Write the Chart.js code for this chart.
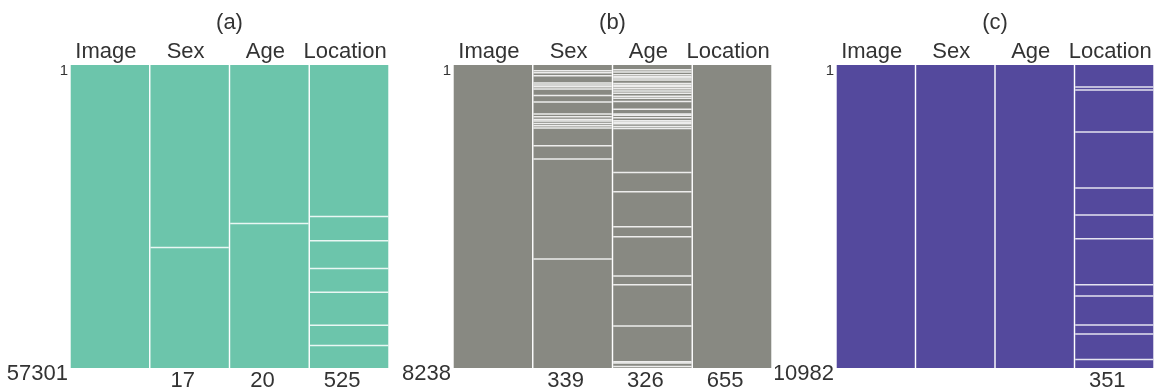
<!DOCTYPE html>
<html>
<head>
<meta charset="utf-8">
<script src="https://cdn.jsdelivr.net/npm/chart.js@4"></script>
<style>
  body { margin: 0; width: 1165px; height: 392px; background: #fff; position: relative; overflow: hidden; }
  .panel { position: absolute; top: 0; height: 392px; }
</style>
</head>
<body>
<div class="panel" style="left:0;width:395px"><canvas id="chartA"></canvas></div>
<div class="panel" style="left:395px;width:380px"><canvas id="chartB"></canvas></div>
<div class="panel" style="left:775px;width:390px"><canvas id="chartC"></canvas></div>
<script>
const columns = ['Image', 'Sex', 'Age', 'Location']

// (a)
const rowsA = 57301
const countsA = ['', '17', '20', '525']
const sexMissingA = [[34350, 34366]]
const ageMissingA = [[29815, 29834]]
const locMissingA = [[28500, 28590], [33100, 33190], [38340, 38430], [42820, 42910], [49060, 49150], [52900, 52990]]

// (b)
const rowsB = 8238
const countsB = ['', '339', '326', '655']
const sexMissingB = [[137, 150], [191, 215], [273, 290], [471, 490], [526, 545], [572, 590], [634, 650], [808, 820],
  [988, 1000], [1315, 1345], [1387, 1400], [1460, 1480], [1505, 1520], [1569, 1580], [1632, 1645], [1694, 1705],
  [2175, 2190], [2537, 2550], [5255, 5265]]
const ageMissingB = [[110, 125], [172, 185], [246, 260], [300, 312], [335, 345], [390, 400], [482, 495], [530, 560],
  [572, 585], [626, 640], [690, 710], [748, 760], [830, 845], [884, 895], [971, 985], [1183, 1195], [1310, 1325],
  [1350, 1365], [1418, 1440], [1495, 1520], [1535, 1550], [1580, 1595], [1655, 1670], [1705, 1725], [2901, 2915],
  [3426, 3440], [4377, 4390], [4649, 4660], [5717, 5730], [5954, 5966], [7077, 7090], [8047, 8058], [8080, 8092],
  [8180, 8195]]
const locMissingB = []

// (c)
const rowsC = 10982
const countsC = ['', '', '', '351']
const sexMissingC = []
const ageMissingC = []
const locMissingC = [[773, 800], [882, 895], [2404, 2415], [4433, 4445], [5412, 5425], [6270, 6282], [7940, 7975],
  [8347, 8360], [9398, 9410], [9724, 9736], [10644, 10656]]

Chart.defaults.font.family = "'Liberation Sans', Arial, sans-serif"
Chart.defaults.color = '#333'

const makeChart = (id, title, rows, counts, missing, color, leftWidth, rightPad) => {
  // missing = one list of [from, to] per column, Image has none
  const gaps = []
  missing.forEach((list, i) => {
    list.forEach(r => gaps.push({ x: columns[i + 1], y: r }))
  })
  const full = columns.map(c => ({ x: c, y: [1, rows] }))

  const noGrid = { display: false, drawTicks: false }

  return new Chart(document.getElementById(id), {
    type: 'bar',
    data: {
      labels: columns,
      datasets: [
        {
          data: gaps,
          backgroundColor: 'rgba(255,255,255,0.85)',
          barPercentage: 0.982,
          categoryPercentage: 1,
          grouped: false,
          minBarLength: 1.5,
          order: 0
        },
        {
          data: full,
          backgroundColor: color,
          barPercentage: 0.982,
          categoryPercentage: 1,
          grouped: false,
          order: 1
        }
      ]
    },
    options: {
      animation: false,
      responsive: true,
      maintainAspectRatio: false,
      layout: { padding: { left: 0, right: rightPad, top: 0, bottom: 0 } },
      plugins: { legend: { display: false }, tooltip: { enabled: false } },
      scales: {
        x: {
          position: 'top',
          offset: true,
          grid: noGrid,
          border: { display: false },
          title: { display: true, text: title, font: { size: 22 }, padding: { top: 10, bottom: 0 } },
          ticks: { font: { size: 22 }, padding: 0, maxRotation: 0, autoSkip: false, labelOffset: -4 },
          afterFit: s => { s.height = 65 }
        },
        xb: {
          type: 'category',
          labels: counts,
          position: 'bottom',
          offset: true,
          grid: noGrid,
          border: { display: false },
          ticks: { font: { size: 22 }, padding: 0, maxRotation: 0, autoSkip: false, labelOffset: -7 },
          afterFit: s => { s.height = 24 }
        },
        y: {
          reverse: true,
          min: 1,
          max: rows,
          grid: noGrid,
          border: { display: false },
          afterBuildTicks: s => { s.ticks = [{ value: 1 }, { value: rows }] },
          ticks: {
            padding: 2,
            labelOffset: 6,
            font: ctx => ({ size: ctx.index === 0 ? 15 : 22 }),
            callback: v => String(v)
          },
          afterFit: s => { s.width = leftWidth }
        }
      }
    }
  })
}

makeChart('chartA', '(a)', rowsA, countsA, [sexMissingA, ageMissingA, locMissingA], 'rgb(108,197,171)', 70, 6)
makeChart('chartB', '(b)', rowsB, countsB, [sexMissingB, ageMissingB, locMissingB], 'rgb(136,137,130)', 58, 3)
makeChart('chartC', '(c)', rowsC, countsC, [sexMissingC, ageMissingC, locMissingC], 'rgb(84,73,157)', 61, 11)
</script>
</body>
</html>
